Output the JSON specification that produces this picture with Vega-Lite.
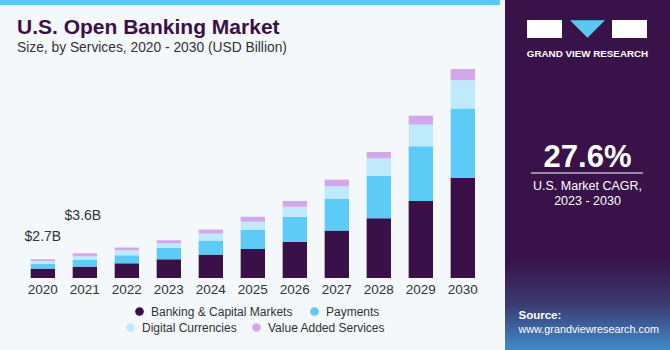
{
  "$schema": "https://vega.github.io/schema/vega-lite/v6.json",
  "background": "#f4f8fb",
  "padding": 0,
  "spacing": 5,
  "config": {"view": {"stroke": null}, "font": "Liberation Sans"},
  "datasets": {
    "market": [
      {"year": "2020", "service": "Banking & Capital Markets", "value": 1.36},
      {"year": "2020", "service": "Payments", "value": 0.67},
      {"year": "2020", "service": "Digital Currencies", "value": 0.43},
      {"year": "2020", "service": "Value Added Services", "value": 0.25},
      {"year": "2021", "service": "Banking & Capital Markets", "value": 1.65},
      {"year": "2021", "service": "Payments", "value": 0.96},
      {"year": "2021", "service": "Digital Currencies", "value": 0.54},
      {"year": "2021", "service": "Value Added Services", "value": 0.44},
      {"year": "2022", "service": "Banking & Capital Markets", "value": 2.13},
      {"year": "2022", "service": "Payments", "value": 1.16},
      {"year": "2022", "service": "Digital Currencies", "value": 0.73},
      {"year": "2022", "service": "Value Added Services", "value": 0.39},
      {"year": "2023", "service": "Banking & Capital Markets", "value": 2.71},
      {"year": "2023", "service": "Payments", "value": 1.64},
      {"year": "2023", "service": "Digital Currencies", "value": 0.68},
      {"year": "2023", "service": "Value Added Services", "value": 0.44},
      {"year": "2024", "service": "Banking & Capital Markets", "value": 3.39},
      {"year": "2024", "service": "Payments", "value": 2.03},
      {"year": "2024", "service": "Digital Currencies", "value": 1.01},
      {"year": "2024", "service": "Value Added Services", "value": 0.58},
      {"year": "2025", "service": "Banking & Capital Markets", "value": 4.2},
      {"year": "2025", "service": "Payments", "value": 2.75},
      {"year": "2025", "service": "Digital Currencies", "value": 1.2},
      {"year": "2025", "service": "Value Added Services", "value": 0.72},
      {"year": "2026", "service": "Banking & Capital Markets", "value": 5.26},
      {"year": "2026", "service": "Payments", "value": 3.62},
      {"year": "2026", "service": "Digital Currencies", "value": 1.45},
      {"year": "2026", "service": "Value Added Services", "value": 0.83},
      {"year": "2027", "service": "Banking & Capital Markets", "value": 6.86},
      {"year": "2027", "service": "Payments", "value": 4.64},
      {"year": "2027", "service": "Digital Currencies", "value": 1.78},
      {"year": "2027", "service": "Value Added Services", "value": 0.97},
      {"year": "2028", "service": "Banking & Capital Markets", "value": 8.64},
      {"year": "2028", "service": "Payments", "value": 6.14},
      {"year": "2028", "service": "Digital Currencies", "value": 2.55},
      {"year": "2028", "service": "Value Added Services", "value": 0.93},
      {"year": "2029", "service": "Banking & Capital Markets", "value": 11.16},
      {"year": "2029", "service": "Payments", "value": 7.91},
      {"year": "2029", "service": "Digital Currencies", "value": 3.14},
      {"year": "2029", "service": "Value Added Services", "value": 1.3},
      {"year": "2030", "service": "Banking & Capital Markets", "value": 14.49},
      {"year": "2030", "service": "Payments", "value": 10.04},
      {"year": "2030", "service": "Digital Currencies", "value": 4.1},
      {"year": "2030", "service": "Value Added Services", "value": 1.65}
    ]
  },
  "hconcat": [
    {
      "spacing": 12,
      "vconcat": [
        {
          "width": 500,
          "height": 5,
          "data": {"values": [{}]},
          "mark": {"type": "rect", "fill": "#5bc8f2"}
        },
        {
          "width": 500,
          "height": 221,
          "title": {
            "text": "U.S. Open Banking Market",
            "subtitle": "Size, by Services, 2020 - 2030 (USD Billion)",
            "anchor": "start",
            "dx": 17,
            "font": "Liberation Sans",
            "fontSize": 21,
            "fontWeight": "bold",
            "color": "#3b1048",
            "subtitleFont": "Liberation Sans",
            "subtitleFontSize": 13.8,
            "subtitleColor": "#333333",
            "subtitlePadding": 3,
            "offset": 2
          },
          "layer": [
            {
              "data": {"name": "market"},
              "transform": [
                {"calculate": "indexof(['Banking & Capital Markets','Payments','Digital Currencies','Value Added Services'], datum.service)", "as": "ord"}
              ],
              "mark": {"type": "bar"},
              "encoding": {
                "x": {
                  "field": "year", "type": "nominal",
                  "scale": {"paddingInner": 0.42, "paddingOuter": 0.663, "align": 0.551},
                  "axis": {"title": null, "labelAngle": 0, "domain": false, "ticks": false, "labelPadding": 4, "labelFont": "Liberation Sans", "labelFontSize": 13.5, "labelColor": "#333333"}
                },
                "y": {"field": "value", "type": "quantitative", "stack": "zero", "scale": {"domain": [0, 32], "nice": false}, "axis": null},
                "color": {
                  "field": "service", "type": "nominal",
                  "scale": {
                    "domain": ["Banking & Capital Markets", "Payments", "Digital Currencies", "Value Added Services"],
                    "range": ["#3a1048", "#5ccbf6", "#bfeafb", "#d3a8ea"]
                  },
                  "legend": {
                    "title": null, "orient": "none", "legendX": 133.5, "legendY": 305.5, "direction": "horizontal",
                    "values": ["Banking & Capital Markets", "Payments"],
                    "symbolType": "circle", "symbolSize": 75, "symbolOpacity": 1, "labelOffset": 5.5,
                    "labelFont": "Liberation Sans", "labelFontSize": 12, "labelColor": "#333333",
                    "columnPadding": 16, "padding": 0
                  }
                },
                "order": {"field": "ord", "type": "quantitative"}
              }
            },
            {
              "data": {"name": "market"},
              "transform": [
                {"filter": {"field": "service", "oneOf": ["Digital Currencies", "Value Added Services"]}}
              ],
              "mark": {"type": "text"},
              "encoding": {
                "x": {"field": "year", "type": "nominal"},
                "text": {"value": ""},
                "fill": {
                  "field": "service", "type": "nominal",
                  "scale": {
                    "domain": ["Digital Currencies", "Value Added Services"],
                    "range": ["#bfeafb", "#d3a8ea"]
                  },
                  "legend": {
                    "title": null, "orient": "none", "legendX": 124.5, "legendY": 321.5, "direction": "horizontal",
                    "symbolType": "circle", "symbolSize": 75, "symbolOpacity": 1, "labelOffset": 5.5,
                    "labelFont": "Liberation Sans", "labelFontSize": 12, "labelColor": "#333333",
                    "columnPadding": 13, "padding": 0
                  }
                }
              }
            },
            {
              "data": {"values": [{"year": "2020", "total": 2.71, "label": "$2.7B"}]},
              "mark": {"type": "text", "dy": -22, "baseline": "middle", "font": "Liberation Sans", "fontSize": 14, "color": "#333333"},
              "encoding": {
                "x": {"field": "year", "type": "nominal"},
                "y": {"field": "total", "type": "quantitative"},
                "text": {"field": "label"}
              }
            },
            {
              "data": {"values": [{"year": "2021", "total": 3.59, "label": "$3.6B"}]},
              "mark": {"type": "text", "dy": -37, "dx": -2, "baseline": "middle", "font": "Liberation Sans", "fontSize": 14, "color": "#333333"},
              "encoding": {
                "x": {"field": "year", "type": "nominal"},
                "y": {"field": "total", "type": "quantitative"},
                "text": {"field": "label"}
              }
            }
          ]
        }
      ]
    },
    {
      "width": 165,
      "height": 350,
      "layer": [
        {
          "data": {"values": [{}]},
          "mark": {"type": "rect", "fill": {"gradient": "linear", "x1": 0, "y1": 0, "x2": 0, "y2": 1, "stops": [
            {"offset": 0, "color": "#381249"},
            {"offset": 0.74, "color": "#381249"},
            {"offset": 0.87, "color": "#3b3a72"},
            {"offset": 1, "color": "#3f8ccb"}
          ]}}
        },
        {
          "data": {"values": [{}]},
          "mark": {"type": "rect", "fill": "#ffffff", "x": 22, "x2": 57, "y": 20, "y2": 38}
        },
        {
          "data": {"values": [{}]},
          "mark": {"type": "rect", "fill": "#ffffff", "x": 107, "x2": 142, "y": 20, "y2": 38}
        },
        {
          "data": {"values": [{}]},
          "mark": {"type": "point", "shape": "M-1,-0.5L1,-0.5L0,0.5Z", "size": 1225, "filled": true, "opacity": 1, "color": "#5bc8f2", "x": 82.5, "y": 29}
        },
        {
          "data": {"values": [{"t": "GRAND VIEW RESEARCH"}]},
          "mark": {"type": "text", "dy": -121, "baseline": "middle", "font": "Liberation Sans", "fontWeight": "bold", "fontSize": 9.8, "color": "#ffffff"},
          "encoding": {"text": {"field": "t"}}
        },
        {
          "data": {"values": [{"t": "27.6%"}]},
          "mark": {"type": "text", "dy": -17, "baseline": "middle", "font": "Liberation Sans", "fontWeight": "bold", "fontSize": 31, "color": "#ffffff"},
          "encoding": {"text": {"field": "t"}}
        },
        {
          "data": {"values": [{}]},
          "mark": {"type": "rect", "fill": "#ffffff", "x": 26, "x2": 138, "y": 172.5, "y2": 173.5}
        },
        {
          "data": {"values": [{"t": "U.S. Market CAGR,"}]},
          "mark": {"type": "text", "dy": 11, "baseline": "middle", "font": "Liberation Sans", "fontSize": 12.5, "color": "#ffffff"},
          "encoding": {"text": {"field": "t"}}
        },
        {
          "data": {"values": [{"t": "2023 - 2030"}]},
          "mark": {"type": "text", "dy": 26, "baseline": "middle", "font": "Liberation Sans", "fontSize": 12.5, "color": "#ffffff"},
          "encoding": {"text": {"field": "t"}}
        },
        {
          "data": {"values": [{"t": "Source:"}]},
          "mark": {"type": "text", "dy": 141, "dx": -69, "align": "left", "baseline": "middle", "font": "Liberation Sans", "fontWeight": "bold", "fontSize": 11.5, "color": "#ffffff"},
          "encoding": {"text": {"field": "t"}}
        },
        {
          "data": {"values": [{"t": "www.grandviewresearch.com"}]},
          "mark": {"type": "text", "dy": 155, "dx": -69, "align": "left", "baseline": "middle", "font": "Liberation Sans", "fontSize": 10.8, "color": "#ffffff"},
          "encoding": {"text": {"field": "t"}}
        }
      ]
    }
  ]
}
